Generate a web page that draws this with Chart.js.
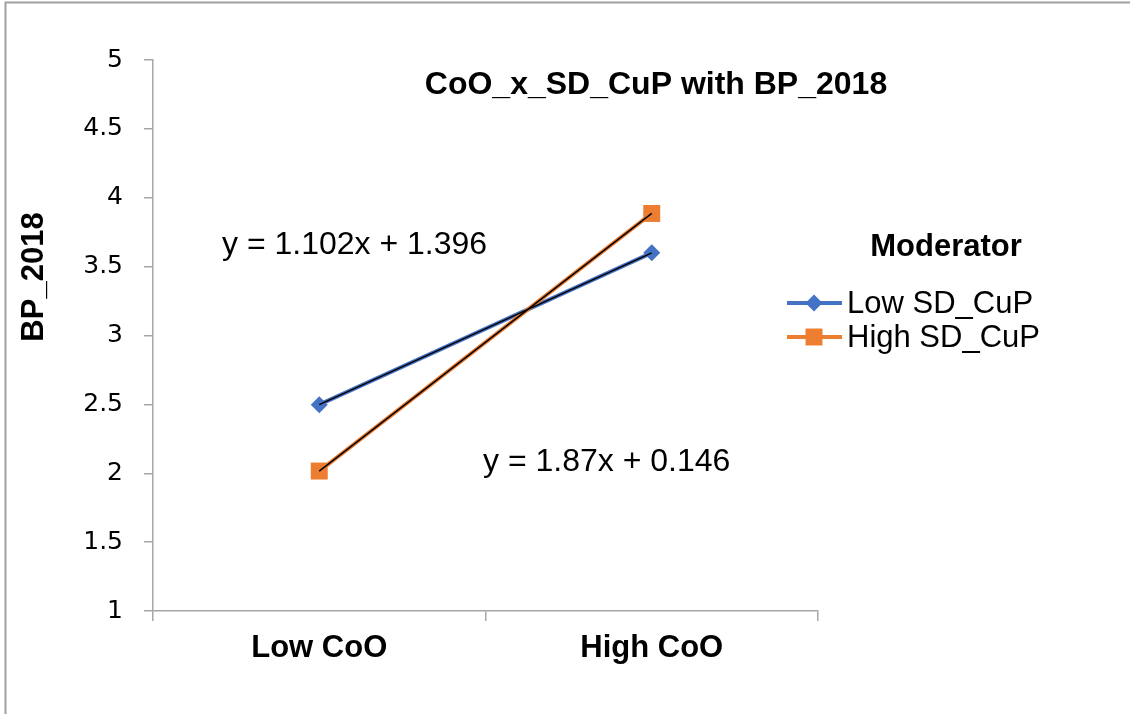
<!DOCTYPE html>
<html>
<head>
<meta charset="utf-8">
<script src="https://cdn.jsdelivr.net/npm/chart.js@4.4.1/dist/chart.umd.min.js"></script>
<style>
  html, body { margin: 0; padding: 0; background: #ffffff; }
  #wrap { width: 1130px; height: 714px; position: relative; }
</style>
</head>
<body>
<div id="wrap"><canvas id="chart" width="1130" height="714"></canvas></div>
<script>
// Simple-slopes data: BP_2018 at low / high CoO for each moderator level
const categories = ['Low CoO', 'High CoO'];
const lowSdCup = [2.498, 3.6];
const highSdCup = [2.016, 3.886];
const seriesNames = ['Low SD_CuP', 'High SD_CuP'];
const yTicks = [1, 1.5, 2, 2.5, 3, 3.5, 4, 4.5, 5];
const trendEquations = ['y = 1.102x + 1.396', 'y = 1.87x + 0.146'];

const chartTitle = 'CoO_x_SD_CuP with BP_2018';
const yAxisTitle = 'BP_2018';
const legendTitle = 'Moderator';

const BLUE = '#4472C4';
const ORANGE = '#ED7D31';
const AXIS_GREY = '#A6A6A6';
const TEXT = '#000000';
const FONT = '"Liberation Sans", Arial, sans-serif';

// Plot box inside the 1130x714 canvas
const PLOT = { left: 153, top: 60, right: 818, bottom: 611 };

function drawMarker(ctx, style, x, y, r, color) {
  ctx.fillStyle = color;
  ctx.beginPath();
  if (style === 'rectRot') {
    ctx.moveTo(x - r, y); ctx.lineTo(x, y - r); ctx.lineTo(x + r, y); ctx.lineTo(x, y + r);
  } else {
    const s = r * Math.SQRT1_2;
    ctx.rect(x - s, y - s, 2 * s, 2 * s);
  }
  ctx.closePath();
  ctx.fill();
}

// Titles, trendline equations, legend and the outer frame
const decorations = {
  id: 'decorations',
  afterDraw(chart) {
    const ctx = chart.ctx;
    ctx.save();

    // outer frame (top and left edges)
    ctx.strokeStyle = '#A0A0A0';
    ctx.lineWidth = 2;
    ctx.beginPath();
    ctx.moveTo(5.5, 714); ctx.lineTo(5.5, 2.5); ctx.lineTo(1130, 2.5);
    ctx.stroke();

    ctx.fillStyle = TEXT;
    ctx.textBaseline = 'middle';

    // chart title
    ctx.font = 'bold 32px ' + FONT;
    ctx.textAlign = 'center';
    ctx.fillText(chartTitle, 656, 85);

    // y axis title
    ctx.font = 'bold 31px ' + FONT;
    ctx.save();
    ctx.translate(34, 277);
    ctx.rotate(-Math.PI / 2);
    ctx.fillText(yAxisTitle, 0, 0);
    ctx.restore();

    // trendline equations
    ctx.font = '32px ' + FONT;
    ctx.textAlign = 'left';
    ctx.fillText(trendEquations[0], 222, 245);
    ctx.fillText(trendEquations[1], 483, 462);

    // legend, series in their natural order
    ctx.font = 'bold 31px ' + FONT;
    ctx.textAlign = 'center';
    ctx.fillText(legendTitle, 946, 247);

    seriesNames.forEach((name, i) => {
      const ds = chart.data.datasets.find(d => d.label === name);
      const y = 303 + i * 34;
      ctx.strokeStyle = ds.borderColor;
      ctx.lineWidth = 4;
      ctx.beginPath();
      ctx.moveTo(787, y); ctx.lineTo(842, y);
      ctx.stroke();
      drawMarker(ctx, ds.pointStyle, 814, y, ds.pointRadius, ds.pointBackgroundColor);
      ctx.fillStyle = TEXT;
      ctx.font = '31px ' + FONT;
      ctx.textAlign = 'left';
      ctx.fillText(ds.label, 847, y + 1);
    });

    ctx.restore();
  }
};

new Chart(document.getElementById('chart'), {
  type: 'line',
  data: {
    labels: categories,
    datasets: [
      // linear trendlines through each series, drawn on top
      { label: 'trend low', data: lowSdCup, borderColor: '#000000', borderWidth: 1.5,
        pointRadius: 0, order: 0 },
      { label: 'trend high', data: highSdCup, borderColor: '#000000', borderWidth: 1.5,
        pointRadius: 0, order: 0 },
      { label: seriesNames[1], data: highSdCup, borderColor: ORANGE, borderWidth: 4,
        pointStyle: 'rect', pointRadius: 12, pointBackgroundColor: ORANGE, pointBorderWidth: 0,
        order: 1 },
      { label: seriesNames[0], data: lowSdCup, borderColor: BLUE, borderWidth: 4,
        pointStyle: 'rectRot', pointRadius: 8.5, pointBackgroundColor: BLUE, pointBorderWidth: 0,
        order: 2 }
    ]
  },
  options: {
    responsive: false,
    animation: false,
    layout: { padding: { left: 0, top: PLOT.top, right: 1130 - PLOT.right, bottom: 0 } },
    plugins: { legend: { display: false }, tooltip: { enabled: false }, title: { display: false } },
    elements: { line: { tension: 0 } },
    scales: {
      x: {
        offset: true,
        grid: { offset: true, drawOnChartArea: false, drawTicks: true, tickLength: 10, color: AXIS_GREY, lineWidth: 1.5 },
        border: { display: true, color: AXIS_GREY, width: 1.5 },
        ticks: { color: TEXT, padding: 9, font: { family: FONT, size: 31, weight: 'bold' } },
        afterFit(axis) { axis.height = 714 - PLOT.bottom; }
      },
      y: {
        min: 1, max: 5,
        afterBuildTicks(axis) { axis.ticks = yTicks.map(v => ({ value: v })); },
        grid: { drawOnChartArea: false, drawTicks: true, tickLength: 9, color: AXIS_GREY, lineWidth: 1.5 },
        border: { display: true, color: AXIS_GREY, width: 1.5 },
        ticks: { color: TEXT, padding: 21, font: { family: '"DejaVu Sans", sans-serif', size: 25 },
                 callback: v => String(v) },
        afterFit(axis) { axis.width = PLOT.left; }
      }
    }
  },
  plugins: [decorations]
});
</script>
</body>
</html>
